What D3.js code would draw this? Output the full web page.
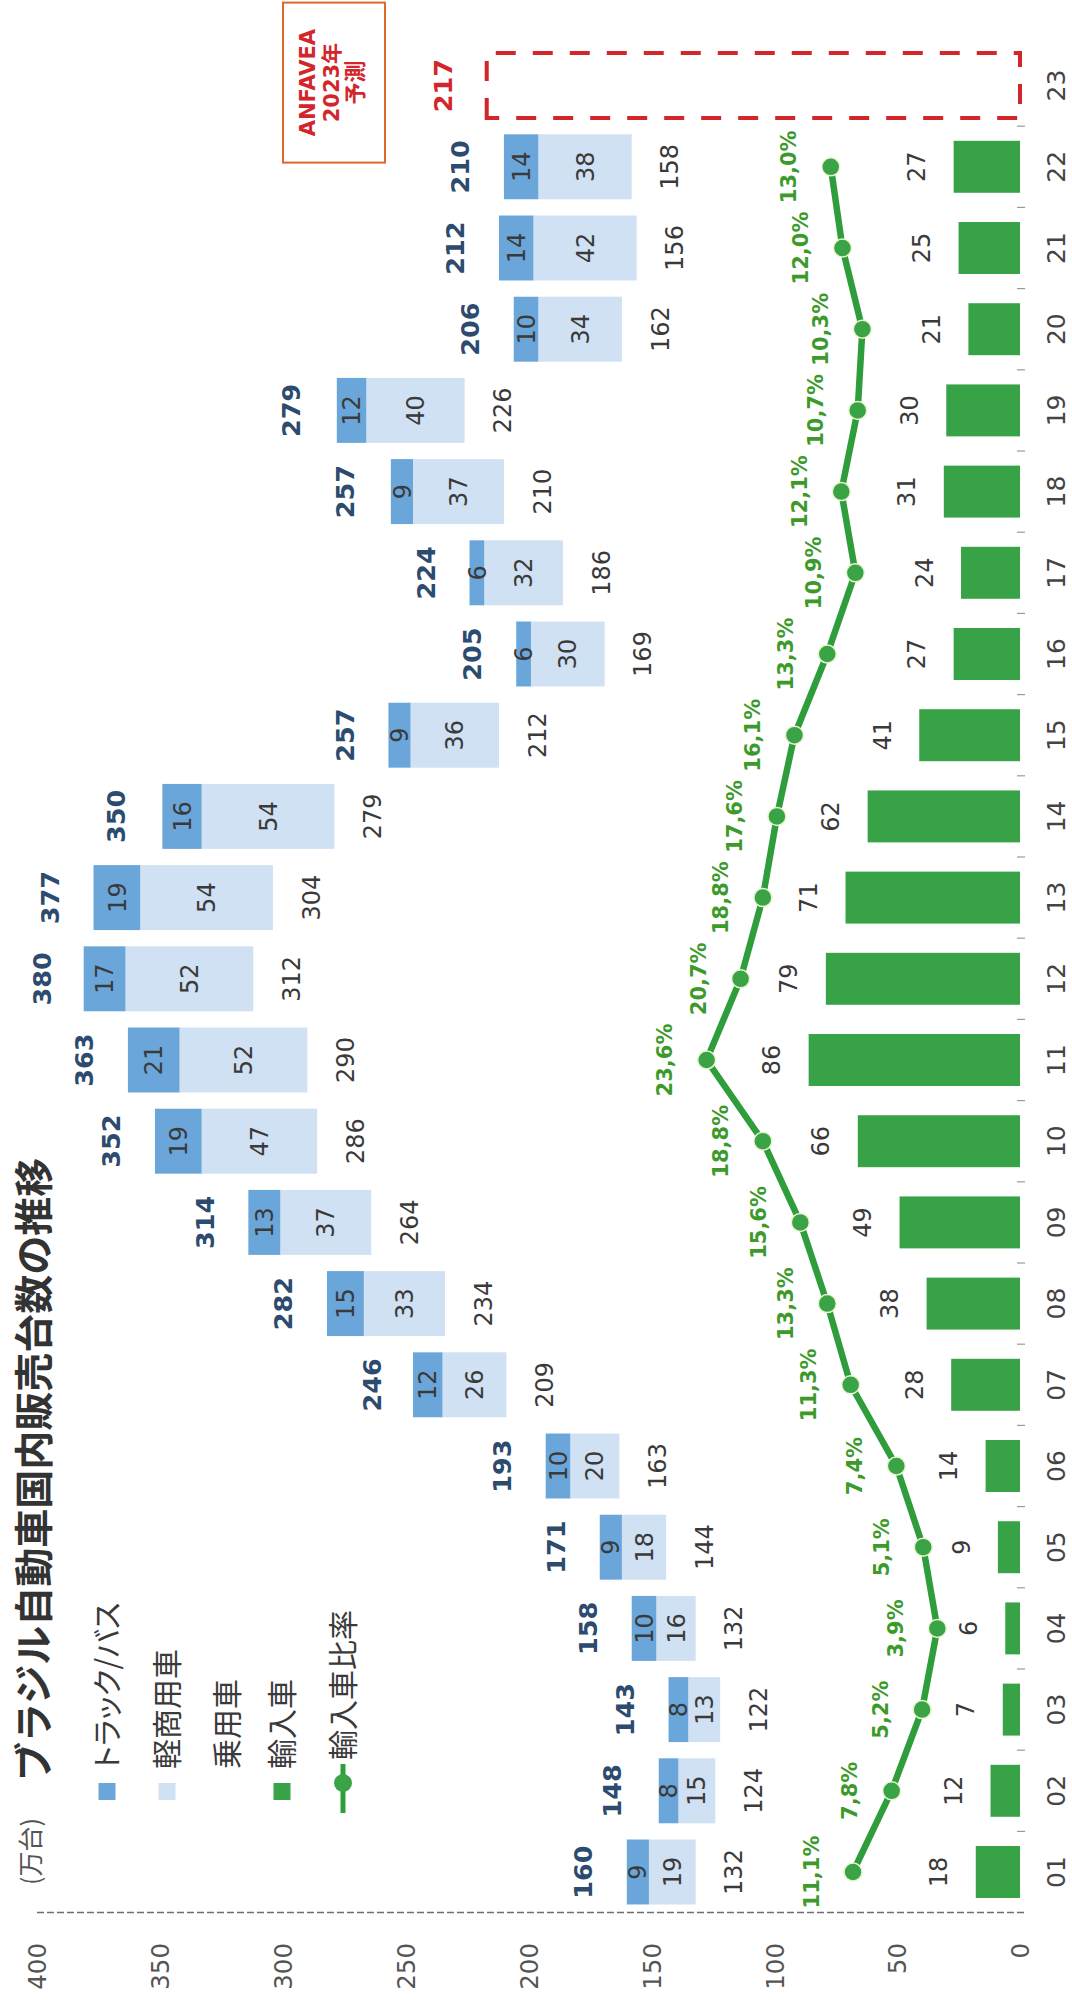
<!DOCTYPE html>
<html><head><meta charset="utf-8">
<script src="https://cdn.jsdelivr.net/npm/d3@7"></script>
<style>
html,body{margin:0;padding:0;background:#fff;}
svg{display:block;}
</style></head><body>
<svg id="chart" width="1072" height="2002"></svg>
<script>
// ---- data ----
const years = ["01","02","03","04","05","06","07","08","09","10","11","12","13","14","15","16","17","18","19","20","21","22","23"];
const totals = [160,148,143,158,171,193,246,282,314,352,363,380,377,350,257,205,224,257,279,206,212,210];
const trucks = [9,8,8,10,9,10,12,15,13,19,21,17,19,16,9,6,6,9,12,10,14,14];
const lightCommercial = [19,15,13,16,18,20,26,33,37,47,52,52,54,54,36,30,32,37,40,34,42,38];
const passenger = [132,124,122,132,144,163,209,234,264,286,290,312,304,279,212,169,186,210,226,162,156,158];
const imports = [18,12,7,6,9,14,28,38,49,66,86,79,71,62,41,27,24,31,30,21,25,27];
const importRatio = [11.1,7.8,5.2,3.9,5.1,7.4,11.3,13.3,15.6,18.8,23.6,20.7,18.8,17.6,16.1,13.3,10.9,12.1,10.7,10.3,12.0,13.0];
const forecastYear = "23";
const forecastTotal = 217;
const valueTicks = [0,50,100,150,200,250,300,350,400];
const legendLabels = ["トラック/バス","軽商用車","乗用車","輸入車","輸入車比率"];
const titleText = "ブラジル自動車国内販売台数の推移";
const unitText = "(万台)";
const forecastNote = ["ANFAVEA","2023年","予測"];

// ---- styles ----
const C = {
  truck:"#6aa6d9", lcv:"#cfe1f3", imp:"#38a346", line:"#2f9d3b",
  ratioText:"#3c9a2a", total:"#2c4b6e", text:"#3a3a3a", axis:"#555", red:"#d3262b", box:"#dc6a2c"
};
const numFont = "'DejaVu Sans', 'Noto Sans CJK JP', sans-serif";
const jpFont = "'Noto Sans CJK JP', sans-serif";

const rows = years.slice(0, totals.length).map((yr,i)=>({
  year:yr, total:totals[i], truck:trucks[i], lcv:lightCommercial[i], passenger:passenger[i],
  imports:imports[i], ratio:importRatio[i]
}));

const svg = d3.select("#chart");
// chart drawn in an unrotated 2002 x 1072 frame, then turned to match the reference
const g = svg.append("g").attr("transform","translate(0,2002) rotate(-90)");

const step = 81.2, u0 = 89.4;
const x = d3.scaleBand().domain(years).range([u0, u0 + step*years.length]).padding(0);
const y = d3.scaleLinear().domain([0,400]).range([1020, 37]);
const rs = d3.scaleLinear().domain([0,30]).range([983, 631.7]);

const wide = x.bandwidth()*0.8, narrow = x.bandwidth()*0.64;
const cx = d => x(d) + x.bandwidth()/2;

// value axis labels
const yAxis = d3.axisLeft(y).tickValues(valueTicks).tickSize(0).tickPadding(0);
const ya = g.append("g").attr("transform","translate(59,0)").call(yAxis);
ya.select(".domain").remove();
ya.selectAll("text").attr("font-family",numFont).attr("font-size",24.5).attr("fill",C.axis).attr("dy","0.36em");

// dashed axis line
g.append("line").attr("x1",u0).attr("x2",u0).attr("y1",y(400)).attr("y2",y(0)+5)
  .attr("stroke","#6e6e6e").attr("stroke-width",1.5).attr("stroke-dasharray","7,3");

// category labels
const xAxis = d3.axisBottom(x).tickSize(0).tickPadding(0);
const xa = g.append("g").attr("transform","translate(0,1056)").call(xAxis);
xa.select(".domain").remove();
xa.selectAll("text").attr("font-family",numFont).attr("font-size",25).attr("fill","#444").attr("y",0).attr("dy","0.36em");
// boundary ticks
g.append("g").selectAll("line").data(years.slice(1)).join("line")
  .attr("x1",d=>x(d)).attr("x2",d=>x(d)).attr("y1",y(0)-3).attr("y2",y(0)+5)
  .attr("stroke","#9a9a9a").attr("stroke-width",1.2);

// stacked bars (passenger part left unfilled)
const stack = d3.stack().keys(["passenger","lcv","truck"])(rows);
const fills = {passenger:"none", lcv:C.lcv, truck:C.truck};
stack.forEach(layer=>{
  g.append("g").selectAll("rect").data(layer).join("rect")
    .attr("x",d=>cx(d.data.year)-wide/2).attr("width",wide)
    .attr("y",d=>y(d[1])).attr("height",d=>y(d[0])-y(d[1]))
    .attr("fill",fills[layer.key]);
});
// segment labels
const lt = g.append("g").attr("font-family",numFont).attr("font-size",24).attr("fill",C.text)
  .attr("text-anchor","middle");
rows.forEach(d=>{
  const p = d.passenger, l = d.lcv, t = d.truck;
  lt.append("text").attr("x",cx(d.year)).attr("y",(y(p+l+t)+y(p+l))/2).attr("dy","0.36em").text(t);
  lt.append("text").attr("x",cx(d.year)).attr("y",(y(p+l)+y(p))/2).attr("dy","0.36em").text(l);
  lt.append("text").attr("x",cx(d.year)).attr("y",y(p)+38).attr("dy","0.36em").text(p);
  lt.append("text").attr("x",cx(d.year)).attr("y",y(d.imports)-37).attr("dy","0.36em").text(d.imports);
});
// totals
g.append("g").selectAll("text").data(rows).join("text")
  .attr("x",d=>cx(d.year)).attr("y",d=>y(d.total)-44).attr("dy","0.36em")
  .attr("text-anchor","middle").attr("font-family",numFont).attr("font-size",25.5)
  .attr("font-weight",700).attr("fill",C.total).text(d=>d.total);

// import bars
g.append("g").selectAll("rect").data(rows).join("rect")
  .attr("x",d=>cx(d.year)-narrow/2).attr("width",narrow)
  .attr("y",d=>y(d.imports)).attr("height",d=>y(0)-y(d.imports)).attr("fill",C.imp);

// forecast box
g.append("rect").attr("x",cx(forecastYear)-wide/2).attr("width",wide)
  .attr("y",y(forecastTotal)).attr("height",y(0)-y(forecastTotal))
  .attr("fill","none").attr("stroke",C.red).attr("stroke-width",4).attr("stroke-dasharray","20,17");
g.append("text").attr("x",cx(forecastYear)).attr("y",y(forecastTotal)-44).attr("dy","0.36em")
  .attr("text-anchor","middle").attr("font-family",numFont).attr("font-size",25.5).attr("font-weight",700)
  .attr("fill",C.red).text(forecastTotal);
// ANFAVEA note
const noteCx = cx(forecastYear)+3;
g.append("rect").attr("x",noteCx-80).attr("y",283).attr("width",160).attr("height",102)
  .attr("fill","#fff").attr("stroke",C.box).attr("stroke-width",2);
forecastNote.forEach((t,i)=>{
  g.append("text").attr("x",noteCx).attr("y",307+i*24).attr("dy","0.36em").attr("text-anchor","middle")
    .attr("font-family",numFont).attr("font-size",i===2?22:21).attr("font-weight",700)
    .attr("fill",C.red).text(t);
});

// ratio line
const line = d3.line().x(d=>cx(d.year)).y(d=>rs(d.ratio));
g.append("path").datum(rows).attr("d",line).attr("fill","none").attr("stroke",C.line).attr("stroke-width",6.5);
g.append("g").selectAll("circle").data(rows).join("circle")
  .attr("cx",d=>cx(d.year)).attr("cy",d=>rs(d.ratio)).attr("r",9)
  .attr("fill","#3aa346").attr("stroke","#e9f5d0").attr("stroke-width",1.5);
const fmt = v => d3.format(".1f")(v).replace(".",",")+"%";
g.append("g").selectAll("text").data(rows).join("text")
  .attr("x",d=>cx(d.year)).attr("y",d=>rs(d.ratio)-42).attr("dy","0.36em")
  .attr("text-anchor","middle").attr("font-family",numFont).attr("font-size",21).attr("font-weight",700)
  .attr("fill",C.ratioText).text(d=>fmt(d.ratio));

// title + unit
g.append("text").attr("x",117).attr("y",31).attr("dy","0.35em").attr("font-family",jpFont)
  .attr("font-size",25).attr("fill","#555").text(unitText);
g.append("text").attr("x",221).attr("y",34).attr("dy","0.36em").attr("font-family",jpFont)
  .attr("font-size",39).attr("font-weight",700).attr("fill","#333").text(titleText);

// legend
const legV = [107,167,227,282,343];
const legSw = [C.truck, C.lcv, null, C.imp, "line"];
const lg = g.append("g");
legendLabels.forEach((t,i)=>{
  const v = legV[i];
  if (legSw[i]==="line"){
    lg.append("line").attr("x1",189).attr("x2",238).attr("y1",v).attr("y2",v).attr("stroke",C.line).attr("stroke-width",5);
    lg.append("circle").attr("cx",219).attr("cy",v).attr("r",9).attr("fill","#3aa346");
  } else if (legSw[i]){
    lg.append("rect").attr("x",202).attr("y",v-8.5).attr("width",17).attr("height",17).attr("fill",legSw[i]);
  }
  lg.append("text").attr("x",legSw[i]==="line"?242:233).attr("y",v).attr("dy","0.36em")
    .attr("font-family",jpFont).attr("font-size",30).attr("fill","#3a3a3a")
    .style("font-feature-settings","'palt'").text(t);
});
</script>
</body></html>
